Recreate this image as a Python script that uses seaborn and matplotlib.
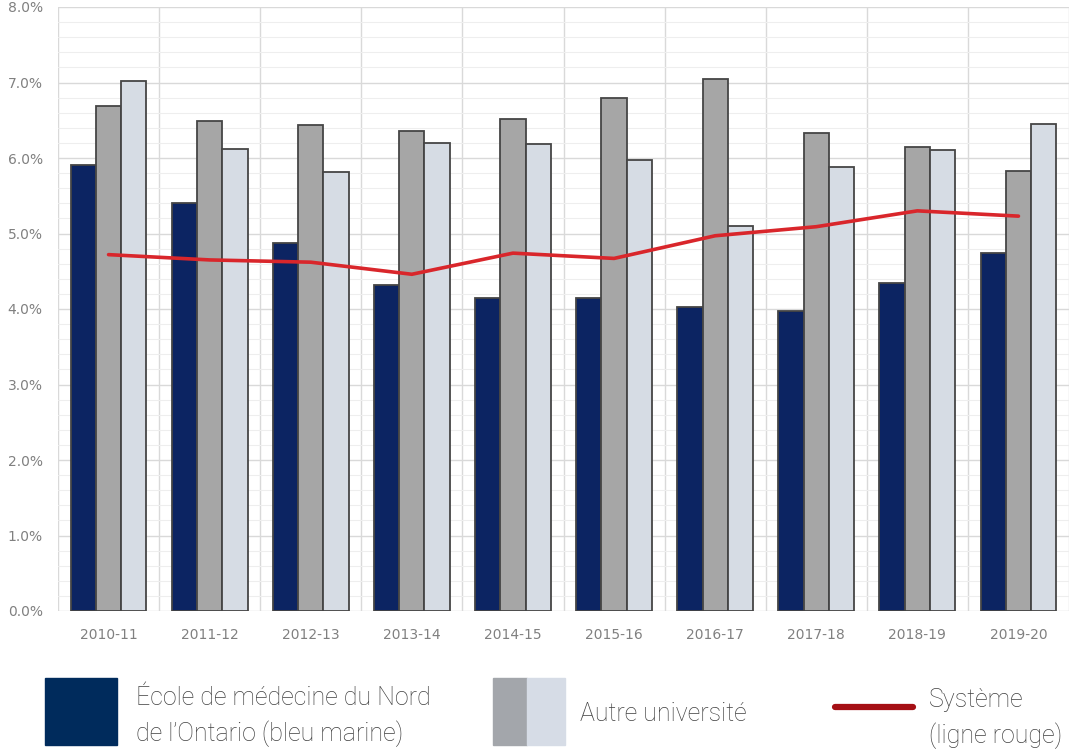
import numpy as np
import pandas as pd
import matplotlib
matplotlib.use("Agg")
import matplotlib.pyplot as plt
from matplotlib.patches import Rectangle
from matplotlib.lines import Line2D
from matplotlib.ticker import FuncFormatter, MultipleLocator
import seaborn as sns

# données (en %)
annees = ["2010-11", "2011-12", "2012-13", "2013-14", "2014-15",
          "2015-16", "2016-17", "2017-18", "2018-19", "2019-20"]
nosm = [5.91, 5.40, 4.87, 4.32, 4.14, 4.15, 4.03, 3.97, 4.35, 4.74]
autre_gris = [6.69, 6.49, 6.44, 6.36, 6.51, 6.80, 7.04, 6.33, 6.15, 5.83]
autre_clair = [7.02, 6.12, 5.82, 6.20, 6.18, 5.97, 5.10, 5.88, 6.11, 6.45]
systeme = [4.72, 4.65, 4.62, 4.46, 4.74, 4.67, 4.97, 5.09, 5.30, 5.23]

NAVY = "#0c2462"
GRIS = "#a6a6a6"
CLAIR = "#d6dce4"
ROUGE = "#d9262b"

W, H = 1071, 750

def fx(x):
    return x / W

def fy(y):
    return 1 - y / H

df = pd.DataFrame({
    "annee": annees * 3,
    "taux": nosm + autre_gris + autre_clair,
    "serie": ["nosm"] * 10 + ["gris"] * 10 + ["clair"] * 10,
})

sns.set_theme(style="white")
fig = plt.figure(figsize=(W / 100, H / 100), dpi=100)
ax = fig.add_axes([fx(58), fy(611), fx(1069 - 58), (611 - 7) / H])

sns.barplot(data=df, x="annee", y="taux", hue="serie", order=annees,
            palette=[NAVY, GRIS, CLAIR], width=0.75, saturation=1,
            edgecolor="#454545", linewidth=1.3, legend=False, ax=ax)

pos = np.arange(len(annees))
sns.lineplot(x=pos, y=systeme, color=ROUGE, linewidth=2.6, ax=ax, zorder=5)

ax.set_xlim(-0.5, len(annees) - 0.5)
ax.set_ylim(0, 8)
ax.yaxis.set_major_locator(MultipleLocator(1))
ax.yaxis.set_minor_locator(MultipleLocator(0.2))
ax.yaxis.set_major_formatter(FuncFormatter(lambda v, p: f"{v:.1f}%"))
ax.set_xticks(pos)
ax.set_xticklabels(annees)
ax.set_xticks(np.arange(-0.5, len(annees), 1), minor=True)
ax.set_axisbelow(True)
ax.grid(which="major", axis="y", color="#d9d9d9", linewidth=1)
ax.grid(which="minor", axis="y", color="#eeeeee", linewidth=0.8)
ax.grid(which="minor", axis="x", color="#d9d9d9", linewidth=1)
ax.set_xlabel("")
ax.set_ylabel("")
for s in ax.spines.values():
    s.set_visible(False)
ax.tick_params(axis="both", which="both", length=0, labelsize=10,
               labelcolor="#808080")
ax.tick_params(axis="y", pad=11)
ax.tick_params(axis="x", pad=12)

# légende dessinée sous le graphique
fig.add_artist(Rectangle((fx(45), fy(745)), fx(72), 67 / H, color="#002b5c",
                         transform=fig.transFigure))
fig.add_artist(Rectangle((fx(493), fy(745)), fx(34), 67 / H, color="#a3a6ab",
                         transform=fig.transFigure))
fig.add_artist(Rectangle((fx(527), fy(745)), fx(38), 67 / H, color="#d6dce6",
                         transform=fig.transFigure))
fig.add_artist(Line2D([fx(835), fx(913)], [fy(707), fy(707)], color="#a50f15",
                      linewidth=4.5, transform=fig.transFigure))

txt = dict(fontsize=18, color="#404040", family="Roboto", fontweight="light",
           va="baseline", ha="left")
fig.text(fx(136), fy(705), "École de médecine du Nord", **txt)
fig.text(fx(136), fy(741), "de l’Ontario (bleu marine)", **txt)
fig.text(fx(580), fy(721), "Autre université", **txt)
fig.text(fx(929), fy(707), "Système", **txt)
fig.text(fx(929), fy(743), "(ligne rouge)", **txt)

fig.savefig("out.png", dpi=100)
